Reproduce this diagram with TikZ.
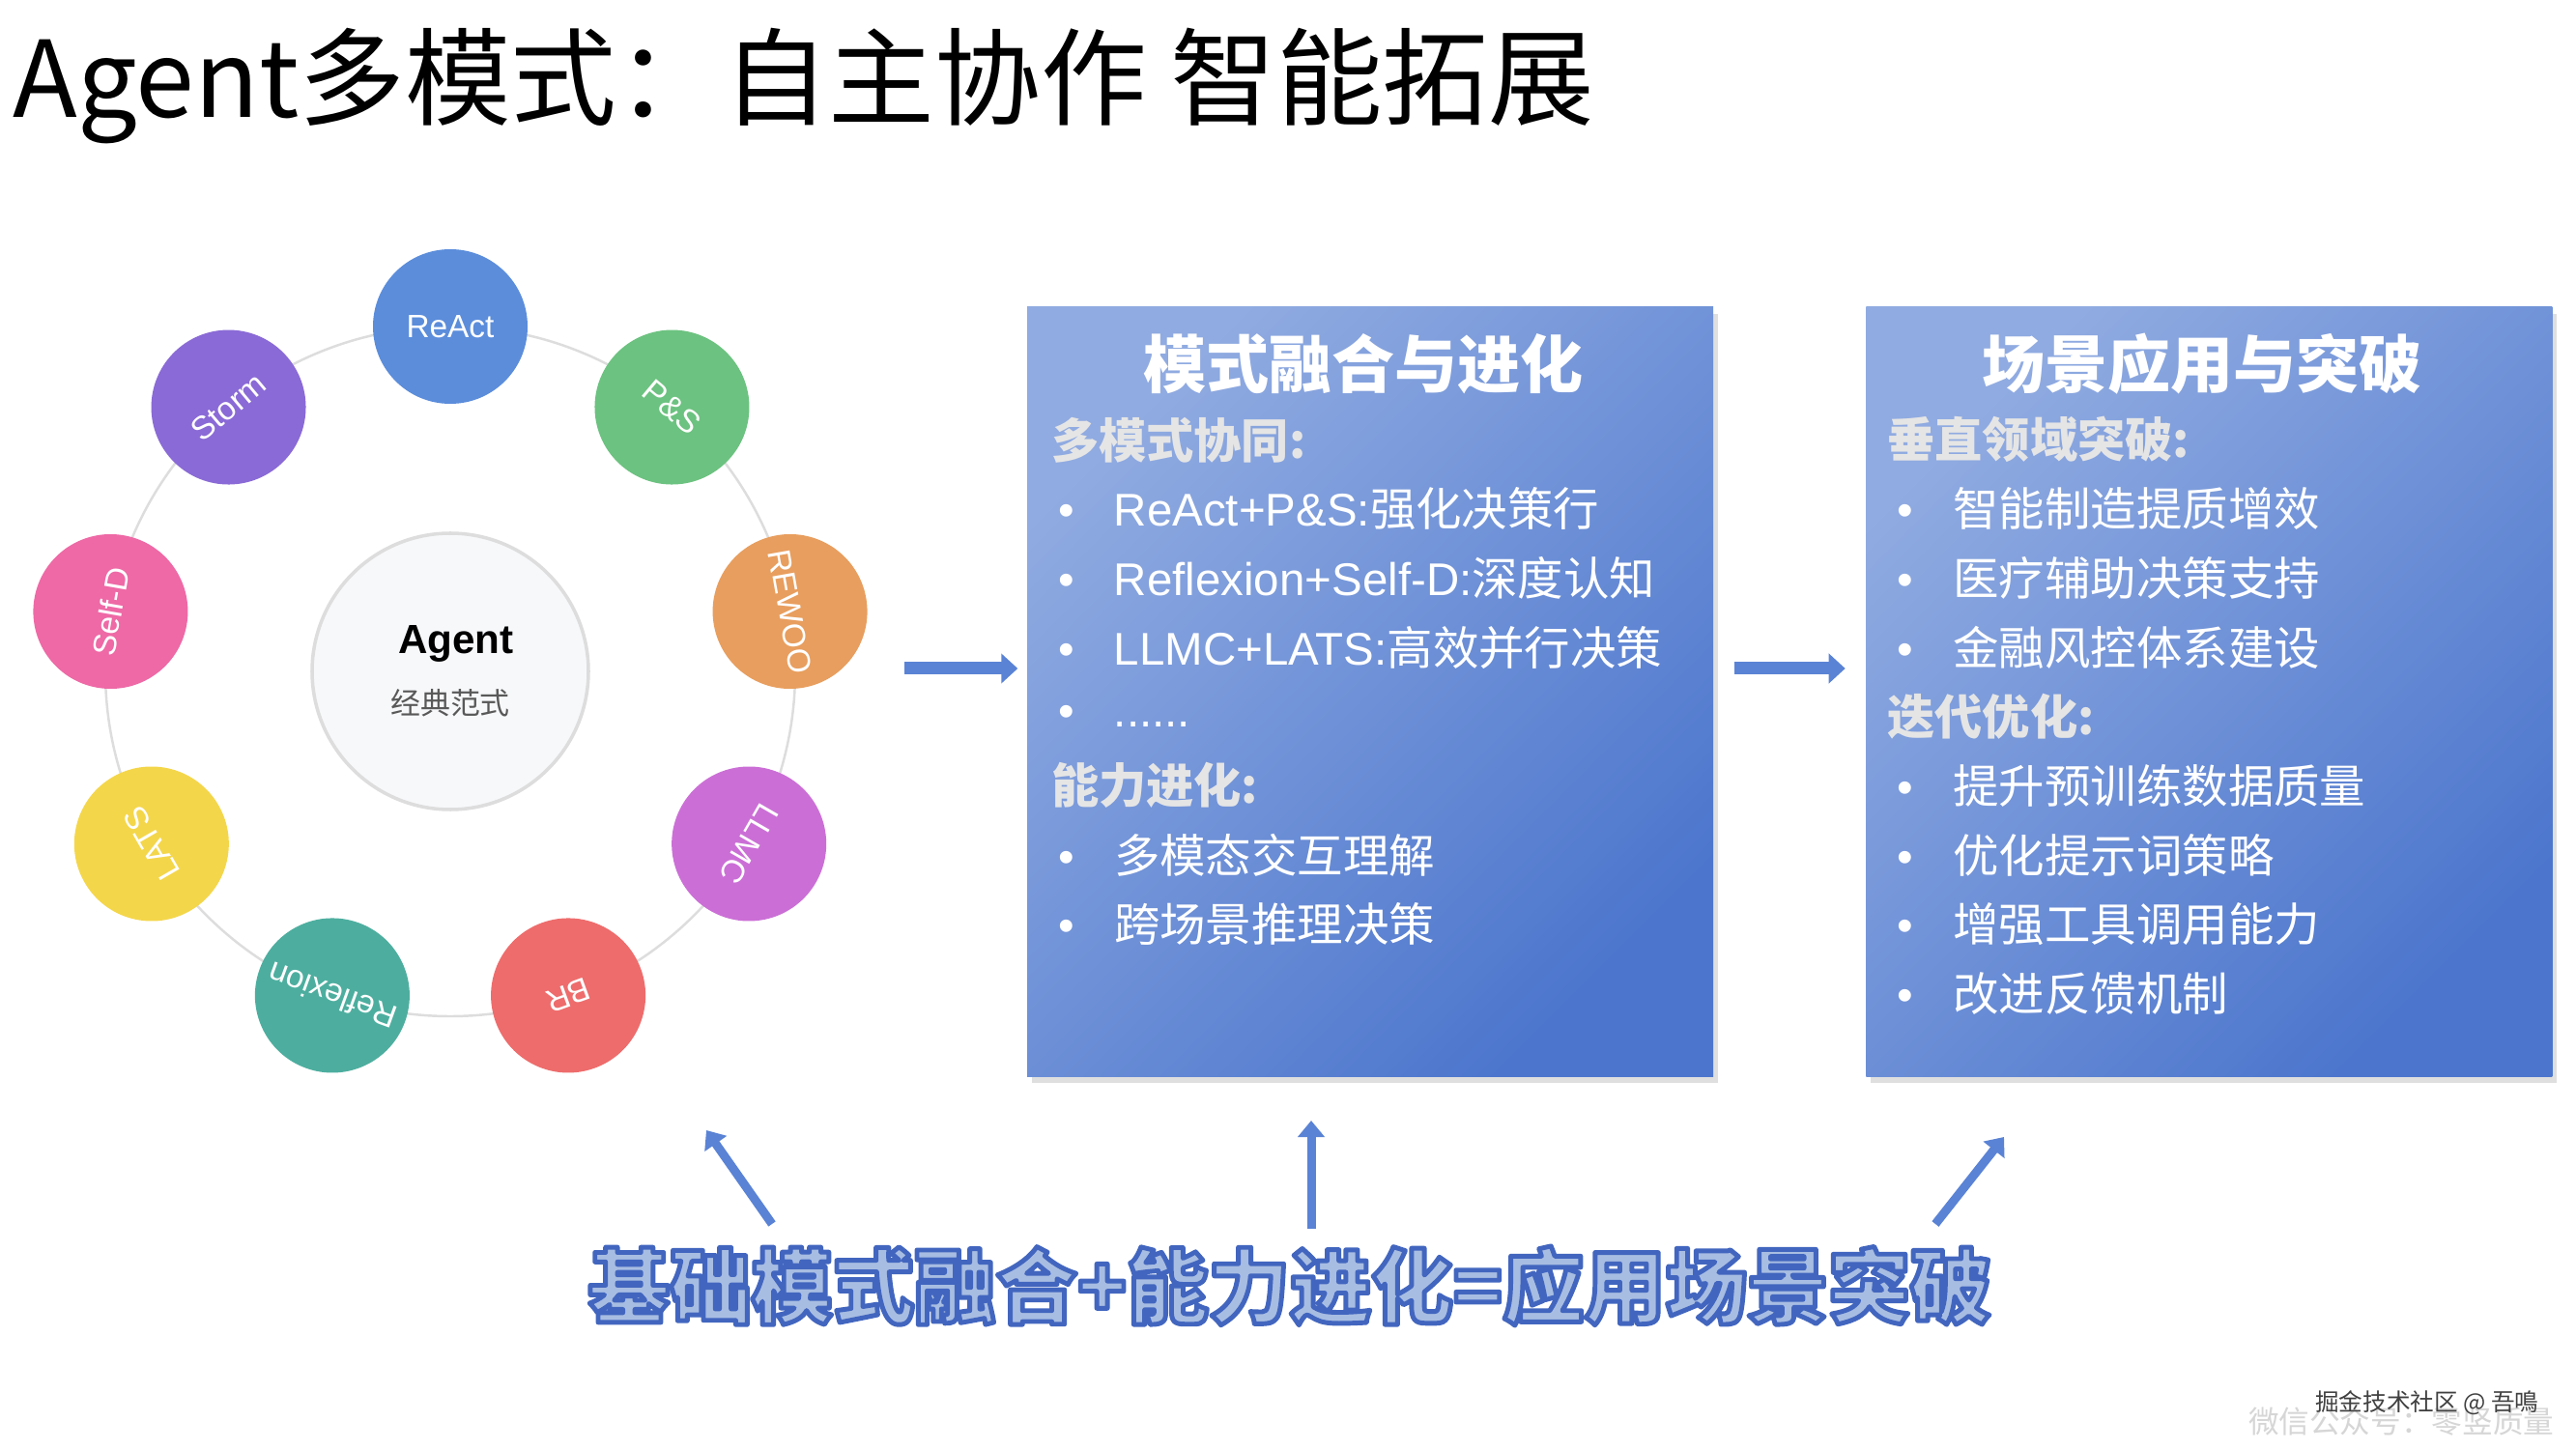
\documentclass[tikz,border=0pt]{standalone}
\usepackage{fontspec}
\setmainfont{Noto Sans CJK SC}
\newfontfamily\latin{Liberation Sans}
\usepackage{tikz}
\usetikzlibrary{positioning,arrows.meta,calc,shadows}
\newcommand{\pts}[1]{\fontsize{#1pt}{#1pt}\selectfont}
\newcommand{\bul}{\makebox[0.58cm][l]{\latin •}}
% outlined text: fill in current colour, stroke in dark blue
\newcommand{\outlined}[1]{\special{pdf:literal direct 0.26 0.40 0.75 RG 1.4 w 1 j 2 Tr}#1\special{pdf:literal direct 0 Tr}}
\definecolor{reactblue}{HTML}{5B8DDB}
\definecolor{psgreen}{HTML}{6CC280}
\definecolor{rewooorange}{HTML}{E89E5E}
\definecolor{llmcpurple}{HTML}{CB6FD6}
\definecolor{brred}{HTML}{EE6C6C}
\definecolor{reflexteal}{HTML}{4DAE9F}
\definecolor{latsyellow}{HTML}{F4D64A}
\definecolor{selfdpink}{HTML}{EE69A6}
\definecolor{stormviolet}{HTML}{8A6AD6}
\definecolor{ringgray}{HTML}{DDDDDD}
\definecolor{corefill}{HTML}{F7F8FA}
\definecolor{boxlight}{HTML}{90ABE1}
\definecolor{boxdark}{HTML}{4C76CD}
\definecolor{arrowblue}{HTML}{5A83D5}
\definecolor{wordfill}{HTML}{A8BDE2}
\definecolor{markgray}{HTML}{D6D6D6}
\tikzset{
  ball/.style={circle, minimum size=1.6cm, inner sep=0pt, text=white, font=\latin\pts{9.5}},
  core/.style={circle, minimum size=2.86cm, draw=ringgray, line width=1pt, fill=corefill, align=center},
  panel/.style={rectangle, minimum width=7.1cm, minimum height=7.96cm,
    top color=boxlight, bottom color=boxdark, shading angle=45,
    drop shadow={opacity=0.25, shadow xshift=0.05cm, shadow yshift=-0.07cm}},
  paneltitle/.style={text=white, font=\bfseries\pts{18.5}, inner sep=0pt},
  heading/.style={anchor=west, inner sep=0pt, text=white!90!black, font=\bfseries\pts{14}},
  item/.style={anchor=west, inner sep=0pt, text=white, font=\pts{13.5}},
  flow/.style={-{Triangle[length=0.17cm, width=0.3cm]}, line width=0.13cm, draw=arrowblue},
  lift/.style={-{Triangle[length=0.17cm, width=0.27cm]}, line width=0.09cm, draw=arrowblue},
}

\begin{document}
\begin{tikzpicture}
\useasboundingbox[fill=white] (0,0) rectangle (26.66,15);

\node[anchor=base west, inner sep=0pt, font=\pts{31.2}] (title) at (0.13,13.78) {Agent多模式：自主协作 智能拓展};

% agent wheel
\node[core] (agent) at (4.66,8.05) {{\latin\bfseries\pts{12} Agent}\\[6pt]{\color{black!65}\pts{8.8}经典范式}};
\draw[draw=ringgray, line width=0.7pt] (agent) circle (3.57cm);
\foreach \ang/\lab/\col/\nm in {90/ReAct/reactblue/react, 50/P\&S/psgreen/ps, 10/REWOO/rewooorange/rewoo,
  -30/LLMC/llmcpurple/llmc, -70/BR/brred/br, -110/Reflexion/reflexteal/reflexion,
  -150/LATS/latsyellow/lats, 170/Self-D/selfdpink/selfd, 130/Storm/stormviolet/storm}
  \node[ball, fill=\col, rotate=\ang-90] (\nm) at ($(agent)+(\ang:3.57)$) {\lab};

% panels
\node[panel] (fusion) at (14.18,7.84) {};
\node[panel, right=1.57cm of fusion] (scene) {};

\node[paneltitle] (fusiontitle) at ($(fusion.north)+(-0.07,-0.59)$) {模式融合与进化};
\node[heading] (fusionh1) at ($(fusion.north west)+(0.25,-1.38)$) {多模式协同:};
\node[heading] (fusionh2) at ($(fusion.north west)+(0.25,-1.38-0.716*5)$) {能力进化:};
\foreach \r/\txt in {1/{{\latin ReAct+P\&S:}强化决策行}, 2/{{\latin Reflexion+Self-D:}深度认知},
  3/{{\latin LLMC+LATS:}高效并行决策}, 4/{{\latin ......}}, 6/{多模态交互理解}, 7/{跨场景推理决策}}
  \node[item] (fusion-\r) at ($(fusion.north west)+(0.32,-1.38-0.716*\r)$) {\bul\txt};

\node[paneltitle] (scenetitle) at ($(scene.north)+(-0.07,-0.59)$) {场景应用与突破};
\node[heading] (sceneh1) at ($(scene.north west)+(0.22,-1.38)$) {垂直领域突破:};
\node[heading] (sceneh2) at ($(scene.north west)+(0.22,-1.38-0.716*4)$) {迭代优化:};
\foreach \r/\txt in {1/智能制造提质增效, 2/医疗辅助决策支持, 3/金融风控体系建设,
  5/提升预训练数据质量, 6/优化提示词策略, 7/增强工具调用能力, 8/改进反馈机制}
  \node[item] (scene-\r) at ($(scene.north west)+(0.32,-1.38-0.716*\r)$) {\bul\txt};

\draw[flow] ([shift={(-1.26,0.24)}]fusion.west) -- ([shift={(-0.09,0.24)}]fusion.west);
\draw[flow] ([shift={(0.21,0.24)}]fusion.east) -- ([shift={(-0.21,0.24)}]scene.west);

% formula and lifts
\node[text=wordfill, font=\bfseries\pts{24}] (formula) at (13.35,1.69) {\outlined{基础模式融合+能力进化=应用场景突破}};
\coordinate (liftL) at (7.31,3.30);
\coordinate (liftM) at (13.57,3.40);
\coordinate (liftR) at (20.74,3.23);
\draw[lift] (7.99,2.33) -- (liftL);
\draw[lift] (13.57,2.28) -- (liftM);
\draw[lift] (20.03,2.33) -- (liftR);

% watermark
\node[anchor=east, inner sep=0pt, text=markgray, font=\pts{9}] (wechat) at (26.44,0.28) {微信公众号：零竖质量};
\node[anchor=east, inner sep=0pt, text=black!75, font=\pts{7}] (juejin) at (26.28,0.48) {掘金技术社区 @ 吾鳴};
\end{tikzpicture}
\end{document}
